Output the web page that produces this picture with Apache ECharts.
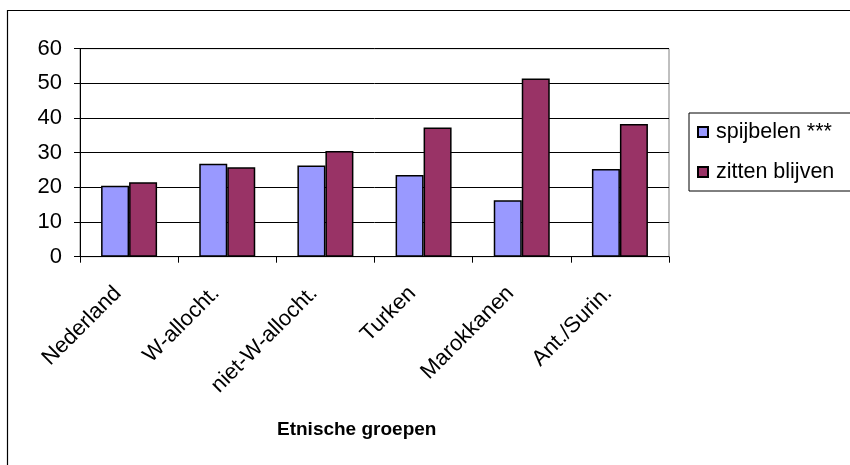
<!DOCTYPE html>
<html>
<head>
<meta charset="utf-8">
<script src="https://cdn.jsdelivr.net/npm/echarts@6/dist/echarts.min.js"></script>
<style>html,body{margin:0;padding:0;background:#fff}#c{width:850px;height:465px}</style>
</head>
<body>
<div id="c"></div>
<script>
const categories = ["Nederland", "W-allocht.", "niet-W-allocht.", "Turken", "Marokkanen", "Ant./Surin."];
const spijbelen = [20.5, 26.8, 26.3, 23.6, 16.3, 25.3];
const zittenBlijven = [21.5, 25.8, 30.5, 37.3, 51.4, 38.3];
const seriesNames = ["spijbelen ***", "zitten blijven"];
const axisTitle = "Etnische groepen";
const yTicks = { min: 0, max: 60, interval: 10 };

const FONT = "Liberation Sans, Arial, sans-serif";
const chart = echarts.init(document.getElementById('c'), null, { renderer: 'canvas' });
chart.setOption({
  animation: false,
  backgroundColor: '#fff',
  title: {
    text: axisTitle,
    left: 277, top: 420,
    padding: 0,
    textStyle: { fontFamily: FONT, fontSize: 19, fontWeight: 'bold', color: '#000' }
  },
  graphic: [{
    type: 'rect', silent: true,
    shape: { x: 7.5, y: 10.5, width: 900, height: 500 },
    style: { fill: 'none', stroke: '#000', lineWidth: 1.2 }
  }],
  legend: {
    orient: 'vertical',
    left: 689, top: 113,
    padding: [8, 40, 8, 8],
    itemGap: 18,
    itemWidth: 10, itemHeight: 10,
    icon: 'rect',
    borderColor: '#000', borderWidth: 1,
    textStyle: { fontFamily: FONT, fontSize: 21.5, color: '#000', padding: [0, 0, 0, 3] },
    data: seriesNames
  },
  grid: {
    left: 80, top: 48.7, right: 181, bottom: 208.3,
    show: true, borderColor: '#808080', borderWidth: 1
  },
  xAxis: {
    type: 'category',
    data: categories,
    axisLine: { show: true, lineStyle: { color: '#000', width: 1 } },
    axisTick: { show: true, length: 6, lineStyle: { color: '#000' } },
    axisLabel: { rotate: 45, margin: 22, padding: [0, 16, 0, 0], fontFamily: FONT, fontSize: 22, color: '#000', interval: 0 }
  },
  yAxis: {
    type: 'value',
    min: yTicks.min, max: yTicks.max, interval: yTicks.interval,
    axisLine: { show: true, lineStyle: { color: '#000', width: 1 } },
    axisTick: { show: true, length: 6, lineStyle: { color: '#000' } },
    axisLabel: { margin: 18, fontFamily: FONT, fontSize: 22, color: '#000' },
    splitLine: { show: true, lineStyle: { color: '#000', width: 1 } }
  },
  series: [
    {
      name: seriesNames[0], type: 'bar', data: spijbelen,
      barWidth: 28, barGap: '0%',
      itemStyle: { color: '#9999FF', borderColor: '#000', borderWidth: 1.5 }
    },
    {
      name: seriesNames[1], type: 'bar', data: zittenBlijven,
      barWidth: 28, barGap: '0%',
      itemStyle: { color: '#993366', borderColor: '#000', borderWidth: 1.5 }
    }
  ]
});
</script>
</body>
</html>
